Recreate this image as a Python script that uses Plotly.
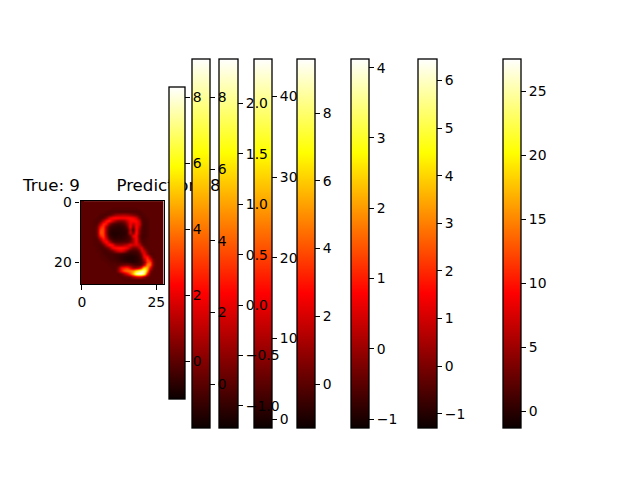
import plotly.graph_objects as go

W, H = 640, 480
PAGE = 8  # the page's own margin offsets the plot by this many pixels
FONT = "DejaVu Sans"

HOT = [[0.0, "rgb(11,0,0)"], [0.365, "rgb(255,0,0)"],
       [0.746, "rgb(255,255,0)"], [1.0, "rgb(255,255,255)"]]

# 28x28 activation map
image_rows = [
 [0,0,0,0,0,0,0,0,0,0,0,0,0,0,0,0,0,0,0,0,0,0,0,0,0,0,0,0],
 [0,0,0,0,0,0,0,0,0,0,0,0,0,0,0,0,0,0,0,0,0,0,0,0,0,0,0,0],
 [0,0,0,0,0,0,0,0,0,0,-.1,-.1,-.1,-.1,-.1,-.1,-.1,-.1,-.1,0,0,0,0,0,0,0,0,0],
 [0,0,0,0,0,0,0,0,-.1,-.2,-.2,-.2,-.2,-.2,-.2,-.2,-.2,-.2,-.2,-.2,-.1,0,0,0,0,0,0,0],
 [0,0,0,0,0,0,-.1,-.2,-.2,-.1,.3,.8,1,1.1,1.1,1,.8,.5,.2,-.1,-.2,-.1,0,0,0,0,0,0],
 [0,0,0,0,0,-.1,-.2,-.1,.5,1.8,2.4,2.6,2.5,2.4,2.4,2.5,2.5,2.3,1.7,.4,-.2,-.2,-.1,0,0,0,0,0],
 [0,0,0,0,-.1,-.2,.1,1.2,2.6,2.9,1.8,1,.5,.4,.7,1.5,2.4,2.5,2.5,1.6,-.1,-.2,-.2,0,0,0,0,0],
 [0,0,0,0,-.1,-.1,1.2,2.9,2.6,.7,-.1,-.3,-.4,-.3,-.1,.8,2.3,1.3,2.3,1.8,.1,-.3,-.2,0,0,0,0,0],
 [0,0,0,0,-.1,.2,2.6,3.2,1.1,-.3,-.5,-.6,-.6,-.6,-.5,.2,2.4,.2,2.6,1.3,-.1,-.3,-.2,0,0,0,0,0],
 [0,0,0,0,-.1,.4,3.3,3.3,.8,-.5,-.7,-.7,-.7,-.7,-.6,-.4,1.6,-.5,2.6,.7,-.2,-.3,-.2,0,0,0,0,0],
 [0,0,0,0,-.1,.4,3.5,3.3,.7,-.6,-.8,-.8,-.8,-.7,-.7,-.5,1.8,.2,2.8,.6,-.2,-.3,-.2,0,0,0,0,0],
 [0,0,0,0,-.1,.2,2.8,3.3,1.1,-.5,-.7,-.8,-.7,-.7,-.6,-.4,.2,2.2,2.4,.2,-.3,-.3,-.2,0,0,0,0,0],
 [0,0,0,0,-.1,-.1,1.2,2.8,1.8,0,-.5,-.6,-.6,-.6,-.5,-.3,-.1,1.2,2.5,.4,-.3,-.2,-.1,0,0,0,0,0],
 [0,0,0,0,-.1,-.1,.1,1.6,2.7,1.5,.2,-.2,-.2,-.2,-.1,-.1,.4,1.2,2.4,.7,-.1,-.2,-.1,0,0,0,0,0],
 [0,0,0,0,-.1,-.1,-.2,.2,1.5,2.7,2.5,1.1,.8,.8,1.1,1.5,2.2,1.6,2,1.6,.4,-.1,-.1,0,0,0,0,0],
 [0,0,0,0,0,-.1,-.2,-.2,.1,.7,2.2,2.6,2.7,2.7,2.6,2.2,1.1,.4,.4,1.5,2,.4,-.1,0,0,0,0,0],
 [0,0,0,0,0,-.1,-.1,-.3,-.3,-.1,.2,1.1,1.8,2,1.4,.4,-.3,-.3,-.3,.2,2.1,1.6,.2,-.1,0,0,0,0],
 [0,0,0,0,0,0,-.1,-.2,-.3,-.3,-.3,-.3,-.3,-.4,-.5,-.6,-.6,-.6,-.5,-.3,1,2.3,.8,-.1,-.1,0,0,0],
 [0,0,0,0,0,0,-.1,-.1,-.2,-.3,-.3,-.4,-.5,-.6,-.7,-.8,-.8,-.8,-.7,-.4,.2,2.3,2.7,.8,-.1,0,0,0],
 [0,0,0,0,0,0,0,-.1,-.1,-.2,-.3,-.3,-.4,-.6,-.7,-.8,-.8,-.8,-.7,-.5,-.1,1.1,3.3,2.4,.2,0,0,0],
 [0,0,0,0,0,0,0,0,-.1,-.1,-.2,-.2,-.3,-.3,-.4,-.4,-.6,-.7,-.6,-.4,-.2,.5,3.2,3.5,.4,0,0,0],
 [0,0,0,0,0,0,0,0,0,-.1,-.1,-.1,-.1,.1,.3,.4,.2,-.1,-.3,-.3,0,1.5,4.2,3.8,.4,0,0,0],
 [0,0,0,0,0,0,0,0,0,0,-.1,-.1,.5,2.3,2.8,3,2,.9,.9,1.5,3.2,5.5,5,2,.1,0,0,0],
 [0,0,0,0,0,0,0,0,0,0,0,-.1,.7,2.5,3.6,4,4.2,4.5,5.8,6.8,7.6,7.6,4.5,.5,0,0,0,0],
 [0,0,0,0,0,0,0,0,0,0,0,0,-.1,.2,1,2,3.3,5.2,7.8,8.3,8.3,6.8,2.2,.1,0,0,0,0],
 [0,0,0,0,0,0,0,0,0,0,0,0,0,-.1,0,.1,.3,1,1.5,1.8,1.5,.8,.1,0,0,0,0,0],
 [0,0,0,0,0,0,0,0,0,0,0,0,0,0,-.1,-.1,-.1,-.1,-.1,-.1,-.1,-.1,0,0,0,0,0,0],
 [0,0,0,0,0,0,0,0,0,0,0,0,0,0,0,0,0,0,0,0,0,0,0,0,0,0,0,0],
]

x_tick_vals = [0, 25]
y_tick_vals = [0, 20]

# colour-bar ranges, left to right
bar_min = [-1.13, -1.21, -1.215, -1.04, -1.28, -1.12, -1.29, -1.28]
bar_max = [8.33, 9.09, 2.446, 44.7, 9.61, 4.13, 6.46, 27.58]
bar_ticks = [
    [0, 2, 4, 6, 8],
    [0, 2, 4, 6, 8],
    [-1.0, -0.5, 0.0, 0.5, 1.0, 1.5, 2.0],
    [0, 10, 20, 30, 40],
    [0, 2, 4, 6, 8],
    [-1, 0, 1, 2, 3, 4],
    [-1, 0, 1, 2, 3, 4, 5, 6],
    [0, 5, 10, 15, 20, 25],
]
bar_tick_text = [
    ["0", "2", "4", "6", "8"],
    ["0", "2", "4", "6", "8"],
    ["\u22121.0", "\u22120.5", "0.0", "0.5", "1.0", "1.5", "2.0"],
    ["0", "10", "20", "30", "40"],
    ["0", "2", "4", "6", "8"],
    ["\u22121", "0", "1", "2", "3", "4"],
    ["\u22121", "0", "1", "2", "3", "4", "5", "6"],
    ["0", "5", "10", "15", "20", "25"],
]

# pixel placement of each bar: left, width, top, bottom
bar_left = [168.5, 191.5, 218.5, 253.5, 296.5, 350.5, 417.5, 502.5]
bar_width = [16, 18, 19, 18, 18, 18, 19, 18]
bar_top = [86.5, 58.5, 58.5, 58.5, 58.5, 58.5, 58.5, 58.5]
bar_bottom = [398.5, 427.5, 427.5, 427.5, 427.5, 427.5, 427.5, 427.5]

title_labels = ["True: 9", "Prediction: 8"]
title_x_px = [51.5, 168.5]
title_y_px = [187, 187]


def colorbar(i):
    return dict(
        xref="container", yref="container",
        x=(bar_left[i] - PAGE) / W, xanchor="left", xpad=0,
        y=1 - (bar_top[i] - PAGE) / H, yanchor="top", ypad=0,
        thicknessmode="pixels", thickness=bar_width[i],
        lenmode="pixels", len=bar_bottom[i] - bar_top[i],
        outlinecolor="black", outlinewidth=1.3, borderwidth=0,
        ticks="outside", ticklen=4.9, tickwidth=1.1, tickcolor="black",
        tickmode="array", tickvals=bar_ticks[i], ticktext=bar_tick_text[i],
        tickfont=dict(family=FONT, size=13.9, color="black"),
    )


fig = go.Figure()

# page-wide text layer for the two title parts (sits under the colour bars)
fig.add_trace(go.Scatter(
    x=[v - PAGE for v in title_x_px], y=[v - PAGE for v in title_y_px],
    text=title_labels, mode="text",
    textposition="middle center",
    textfont=dict(family=FONT, size=16.67, color="black"),
    xaxis="x2", yaxis="y2", showlegend=False, hoverinfo="skip", cliponaxis=False,
))

# colour bars of the squeezed panels: right-most first so that left ones draw over
for i in range(len(bar_min) - 1, 0, -1):
    fig.add_trace(go.Heatmap(
        z=[[bar_min[i], bar_max[i]]], zmin=bar_min[i], zmax=bar_max[i],
        colorscale=HOT, colorbar=colorbar(i), hoverinfo="skip",
        xaxis="x", yaxis="y",
    ))

# main image carries the first colour bar
fig.add_trace(go.Heatmap(
    z=image_rows, zmin=bar_min[0], zmax=bar_max[0], zsmooth="best",
    colorscale=HOT, colorbar=colorbar(0), xaxis="x", yaxis="y",
))

tick_style = dict(
    ticks="outside", ticklen=4.9, tickwidth=1.1, tickcolor="black",
    tickfont=dict(family=FONT, size=13.9, color="black"),
    showgrid=False, zeroline=False, showline=True, linecolor="black",
    linewidth=1.1, mirror=True, tickmode="array",
)

fig.update_layout(
    width=W, height=H, autosize=False,
    margin=dict(l=0, r=0, t=0, b=0, pad=0, autoexpand=False),
    paper_bgcolor="white", plot_bgcolor="rgba(0,0,0,0)", showlegend=False,
    xaxis=dict(domain=[(80.5 - PAGE) / W, (163.8 - PAGE) / W], range=[-0.5, 27.5], tickvals=x_tick_vals, **tick_style),
    yaxis=dict(domain=[1 - (284.4 - PAGE) / H, 1 - (201.1 - PAGE) / H], range=[27.5, -0.5], tickvals=y_tick_vals, **tick_style),
    xaxis2=dict(domain=[0, 1], range=[0, W], visible=False, anchor="y2"),
    yaxis2=dict(domain=[0, 1], range=[H, 0], visible=False, anchor="x2"),
)

fig.write_html("out.html")
